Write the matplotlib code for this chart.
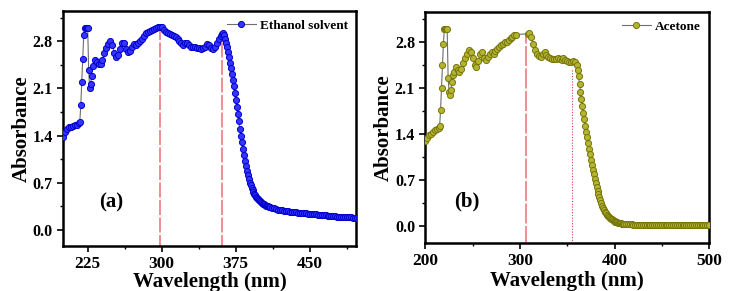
import numpy as np
import matplotlib; matplotlib.use('Agg'); import matplotlib.pyplot as plt
from matplotlib.ticker import MultipleLocator

plt.rcParams['font.family'] = ['Liberation Serif', 'DejaVu Serif']
plt.rcParams['font.weight'] = 'bold'

# (a) ethanol solvent
wl_eth = np.concatenate([np.arange(200, 216, 2), np.arange(216, 230), np.arange(230, 360, 2),
                         np.arange(360, 410), np.arange(410, 501, 2)])
abs_eth = [1.38, 1.45, 1.49, 1.52, 1.53, 1.54, 1.55, 1.56,
           1.58, 1.60, 1.85, 2.19, 2.54, 2.89, 3.00, 3.00, 3.00, 3.00, 2.37, 2.11, 2.17, 2.29,
           2.44, 2.52, 2.50, 2.46, 2.47, 2.52, 2.62, 2.70, 2.76, 2.81,
           2.74, 2.63, 2.56, 2.59, 2.68, 2.77, 2.78, 2.68, 2.64, 2.66,
           2.72, 2.76, 2.75, 2.78, 2.81, 2.84, 2.88, 2.92, 2.94, 2.96,
           2.97, 2.99, 3.00, 3.02, 3.02, 3.01, 2.97, 2.94, 2.92, 2.91,
           2.89, 2.88, 2.86, 2.83, 2.80, 2.77, 2.75, 2.78, 2.77, 2.75,
           2.72, 2.71, 2.71, 2.70, 2.70, 2.69, 2.70, 2.72, 2.76, 2.74,
           2.70, 2.69, 2.72, 2.78, 2.84,
           2.88, 2.91, 2.92, 2.89, 2.84, 2.78, 2.71, 2.64, 2.56, 2.48,
           2.40, 2.31, 2.22, 2.13, 2.03, 1.93, 1.83, 1.72, 1.61, 1.50,
           1.40, 1.30, 1.20, 1.11, 1.02, 0.94, 0.87, 0.81, 0.75, 0.70,
           0.66, 0.62, 0.59, 0.56, 0.53, 0.51, 0.49, 0.47, 0.45, 0.44,
           0.42, 0.41, 0.40, 0.39, 0.38, 0.37, 0.36, 0.355, 0.35, 0.345,
           0.34, 0.33, 0.32, 0.31, 0.30, 0.295, 0.29, 0.285, 0.28, 0.275,
           0.27, 0.266, 0.262, 0.258, 0.255, 0.252, 0.249, 0.246, 0.243, 0.240,
           0.237, 0.234, 0.231, 0.228, 0.225, 0.222, 0.219, 0.216, 0.213, 0.210,
           0.207, 0.204, 0.201, 0.198, 0.196, 0.194, 0.192, 0.190, 0.188, 0.186,
           0.184, 0.182, 0.180, 0.178, 0.176, 0.174]

# (b) acetone (no points recorded between 297 and 307 nm)
wl_ace = np.concatenate([np.arange(200, 214, 2), np.arange(214, 230), np.arange(230, 298, 2),
                         np.arange(308, 360, 2), np.arange(360, 410), np.arange(410, 501, 2)])
abs_ace = [1.30, 1.34, 1.38, 1.41, 1.44, 1.46, 1.48,
           1.50, 1.52, 1.77, 2.10, 2.45, 2.78, 3.00, 3.00, 3.00, 3.00, 2.25, 2.05, 2.00, 2.07, 2.20, 2.30,
           2.35, 2.42, 2.38, 2.35, 2.40, 2.48, 2.56, 2.63, 2.68, 2.66,
           2.56, 2.46, 2.43, 2.52, 2.62, 2.65, 2.56, 2.53, 2.57, 2.63,
           2.65, 2.63, 2.67, 2.70, 2.73, 2.76, 2.78, 2.80, 2.81, 2.84,
           2.86, 2.88, 2.91, 2.92,
           2.93, 2.94, 2.88, 2.78, 2.68, 2.62, 2.59, 2.58, 2.63, 2.65,
           2.60, 2.58, 2.56, 2.55, 2.54, 2.55, 2.56, 2.54, 2.53, 2.56,
           2.53, 2.51, 2.50, 2.50, 2.51, 2.50,
           2.45, 2.38, 2.28, 2.17, 2.05, 1.94, 1.83, 1.73, 1.63, 1.53,
           1.44, 1.35, 1.26, 1.17, 1.09, 1.01, 0.93, 0.86, 0.79, 0.72,
           0.66, 0.60, 0.54, 0.49, 0.44, 0.39, 0.35, 0.31, 0.27, 0.24,
           0.21, 0.19, 0.17, 0.15, 0.13, 0.12, 0.11, 0.10, 0.09, 0.08,
           0.07, 0.065, 0.06, 0.055, 0.05, 0.045, 0.042, 0.039, 0.036, 0.034,
           0.032, 0.029, 0.026, 0.024, 0.022, 0.020, 0.019, 0.018, 0.017, 0.016,
           0.015, 0.015, 0.014, 0.014, 0.014, 0.013, 0.013, 0.013, 0.013, 0.012,
           0.012, 0.012, 0.012, 0.011, 0.011, 0.011, 0.011, 0.010, 0.010, 0.010,
           0.010, 0.010, 0.010, 0.009, 0.009, 0.009, 0.009, 0.009, 0.009, 0.008,
           0.008, 0.008, 0.008, 0.008, 0.008, 0.008]

# marker lines: (x, top) dashed red; dotted for acetone shoulder
eth_lines = [(298.5, 2.99), (361.5, 2.90)]
ace_dash = (306.5, 2.91)
ace_dot = (354.5, 2.40)

fig = plt.figure(figsize=(7.31, 2.91), dpi=100)
axA = fig.add_axes([0.0862, 0.155, 0.401, 0.807])
axB = fig.add_axes([0.582, 0.165, 0.388, 0.793])

red = '#ee7a82'
for x, top in eth_lines:
    axA.plot([x, x], [-0.3, top], color=red, lw=1.2, ls=(0, (9, 1.5)), zorder=1)
axB.plot([ace_dash[0]] * 2, [-0.3, ace_dash[1]], color=red, lw=1.2, ls=(0, (12, 1.5)), zorder=1)
axB.plot([ace_dot[0]] * 2, [-0.3, ace_dot[1]], color='#d04048', lw=0.8, ls=(0, (1, 1.5)), zorder=1)

axA.plot(wl_eth, abs_eth, '-o', color='#6e6e6e', lw=0.8, ms=4.4, mfc='#3535ff', mec='#0000c8',
         mew=0.7, label='Ethanol solvent', zorder=3)
axB.plot(wl_ace, abs_ace, '-o', color='#6e6e6e', lw=0.8, ms=4.4, mfc='#b4b430', mec='#75750a',
         mew=0.7, label='Acetone', zorder=3)

for ax, xlim, xmaj, ylim in [(axA, (200, 497), 75, (-0.24, 3.25)), (axB, (200, 500), 100, (-0.26, 3.26))]:
    ax.set_xlim(*xlim); ax.set_ylim(*ylim)
    ax.xaxis.set_major_locator(MultipleLocator(xmaj)); ax.xaxis.set_minor_locator(MultipleLocator(xmaj / 2))
    ax.yaxis.set_major_locator(MultipleLocator(0.7)); ax.yaxis.set_minor_locator(MultipleLocator(0.35))
    ax.tick_params(which='major', direction='out', length=4, width=1.2, labelsize=11.5)
    ax.tick_params(axis='x', which='major', labelsize=12.5)
    ax.tick_params(which='minor', direction='out', length=2.5, width=1.0)
    for sp in ax.spines.values(): sp.set_linewidth(1.8)
    ax.set_xlabel('Wavelength (nm)', fontsize=15, fontweight='bold')
    ax.set_ylabel('Absorbance', fontsize=15, fontweight='bold')
    ax.legend(loc='upper right', frameon=False, handlelength=2.2, handletextpad=0.3,
              borderaxespad=0.25, prop={'weight': 'bold', 'size': 9.5})
axA.xaxis.set_minor_locator(MultipleLocator(37.5))
axA.set_xticks([225, 300, 375, 450])
axA.xaxis.set_label_coords(0.5, -0.11); axA.yaxis.set_label_coords(-0.106, 0.5)
axB.xaxis.set_label_coords(0.5, -0.12); axB.yaxis.set_label_coords(-0.112, 0.5)

axA.text(248.5, 0.41, '(a)', fontsize=15, fontweight='bold', ha='center', va='center')
axB.text(243.5, 0.38, '(b)', fontsize=15, fontweight='bold', ha='center', va='center')

fig.savefig('out.png', dpi=100)
